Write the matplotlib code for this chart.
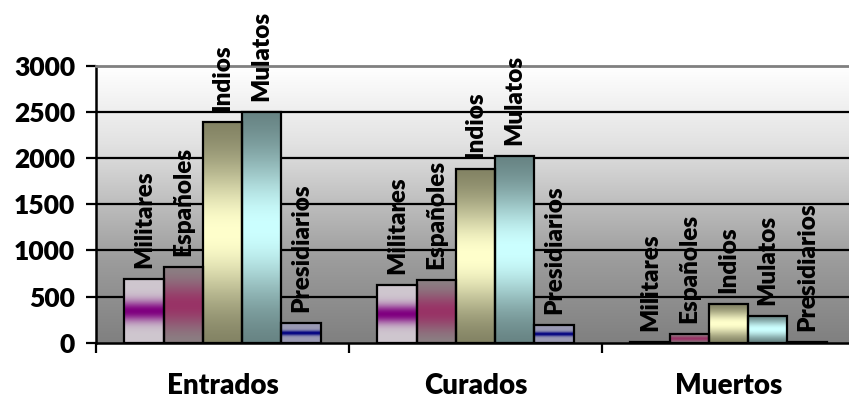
import numpy as np
import matplotlib
matplotlib.use("Agg")
import matplotlib.pyplot as plt
from matplotlib.colors import LinearSegmentedColormap, to_rgb

groups = ["Entrados", "Curados", "Muertos"]
series = ["Militares", "Españoles", "Indios", "Mulatos", "Presidiarios"]
militares = [690, 622, 10]
espanoles = [818, 680, 95]
indios = [2390, 1878, 420]
mulatos = [2502, 2025, 293]
presidiarios = [215, 192, 5]
values = [militares, espanoles, indios, mulatos, presidiarios]

# (end colour, middle colour, band sharpness)
bar_styles = [
    ("#cfc7cf", "#800080", 0.16),
    ("#8a8585", "#993366", 0.30),
    ("#77775a", "#ffffcc", 0.32),
    ("#5e7878", "#ccffff", 0.32),
    ("#9a9ab4", "#000080", 0.12),
]

plt.rcParams['font.family'] = ['Lato', 'DejaVu Sans']
plt.rcParams['font.weight'] = 'heavy'

fig = plt.figure(figsize=(8.49, 4.07), dpi=100)
ax = fig.add_axes([96 / 849, 64.3 / 407, 759 / 849, 277 / 407])

# plot area background: white at top fading to gray
bg = LinearSegmentedColormap.from_list(
    "bg", [(0, "#808080"), (0.3, "#9c9c9c"), (0.5, "#bdbdbd"),
           (0.72, "#e2e2e2"), (1, "#ffffff")])
ax.imshow(np.linspace(1, 0, 256).reshape(-1, 1), cmap=bg, aspect='auto',
          extent=[0, 3, 0, 3000], zorder=0)

for y in [500, 1000, 1500, 2000, 2500]:
    ax.axhline(y, color="black", lw=1.6, zorder=1)

bw = 0.155
x = np.arange(len(groups)) + 0.5
t = np.linspace(0, 1, 200)
for i, (name, vals) in enumerate(zip(series, values)):
    end, mid, s = bar_styles[i]
    w = np.exp(-((t - 0.5) / s) ** 2)[:, None]
    grad = (1 - w) * np.array(to_rgb(end)) + w * np.array(to_rgb(mid))
    pos = x + (i - 2) * bw
    bars = ax.bar(pos, vals, width=bw, facecolor="none", edgecolor="black",
                  linewidth=1.6, zorder=3)
    for b in bars:
        ax.imshow(grad[:, None, :], aspect='auto', zorder=2,
                  extent=[b.get_x(), b.get_x() + b.get_width(), 0, b.get_height()])
        ax.annotate(name, (b.get_x() + b.get_width() / 2, b.get_height()),
                    xytext=(0, 8), textcoords="offset points", rotation=90,
                    ha="center", va="bottom", fontsize=17.5, fontweight="heavy",
                    annotation_clip=False, zorder=4)

ax.set_xlim(0, 3)
ax.set_ylim(0, 3000)
ax.set_yticks(range(0, 3001, 500))
ax.tick_params(axis='y', length=7, width=1.6, pad=8, labelsize=19)
ax.set_xticks([0, 1, 2, 3])
ax.set_xticklabels([])
ax.tick_params(axis='x', which='major', length=7, width=1.6)
ax.set_xticks(x, minor=True)
ax.set_xticklabels(groups, minor=True)
ax.tick_params(axis='x', which='minor', length=0, pad=22, labelsize=20)

for side in ["left", "bottom"]:
    ax.spines[side].set_linewidth(1.8)
ax.spines["top"].set_color("#808080")
ax.spines["top"].set_linewidth(2)
ax.spines["right"].set_visible(False)

fig.savefig("out.png", dpi=100)
